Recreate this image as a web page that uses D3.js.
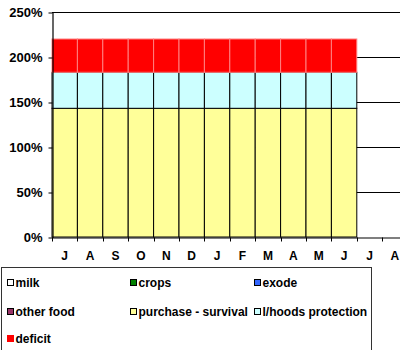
<!DOCTYPE html>
<html>
<head>
<meta charset="utf-8">
<script src="https://cdn.jsdelivr.net/npm/d3@7"></script>
<style>
  html, body { margin: 0; padding: 0; background: #fff; }
  svg { display: block; }
  text { font-family: "Liberation Sans", Arial, sans-serif; font-weight: bold; fill: #000; }
</style>
</head>
<body>
<svg id="chart" width="400" height="350"></svg>
<script>
// Months of the consumption year (last two have no data)
const months = ["J", "A", "S", "O", "N", "D", "J", "F", "M", "A", "M", "J", "J", "A"];

// Share of annual food needs covered by each source (%)
const milk      = [0, 0, 0, 0, 0, 0, 0, 0, 0, 0, 0, 0, 0, 0];
const crops     = [0, 0, 0, 0, 0, 0, 0, 0, 0, 0, 0, 0, 0, 0];
const exode     = [0, 0, 0, 0, 0, 0, 0, 0, 0, 0, 0, 0, 0, 0];
const otherFood = [0, 0, 0, 0, 0, 0, 0, 0, 0, 0, 0, 0, 0, 0];
const purchase  = [143, 143, 143, 143, 143, 143, 143, 143, 143, 143, 143, 143, 0, 0];
const lhoods    = [40, 40, 40, 40, 40, 40, 40, 40, 40, 40, 40, 40, 0, 0];
const deficit   = [37, 37, 37, 37, 37, 37, 37, 37, 37, 37, 37, 37, 0, 0];

const yTicks = [0, 50, 100, 150, 200, 250];

const seriesDefs = [
  { key: "milk",      label: "milk",                values: milk,      fill: "#ffffff", stroke: "#000" },
  { key: "crops",     label: "crops",               values: crops,     fill: "#008000", stroke: "#000" },
  { key: "exode",     label: "exode",               values: exode,     fill: "#3366ff", stroke: "#000" },
  { key: "otherFood", label: "other food",          values: otherFood, fill: "#993366", stroke: "#000" },
  { key: "purchase",  label: "purchase - survival", values: purchase,  fill: "#ffff99", stroke: "#000" },
  { key: "lhoods",    label: "l/hoods protection",  values: lhoods,    fill: "#ccffff", stroke: "#000" },
  { key: "deficit",   label: "deficit",             values: deficit,   fill: "#ff0000", stroke: "#ff8080" }
];

const rows = months.map((m, i) => {
  const r = { idx: i, month: m };
  seriesDefs.forEach(s => { r[s.key] = s.values[i]; });
  return r;
});

const svg = d3.select("#chart");
const plotLeft = 52, plotTop = 12, plotBottom = 237;
const bandW = 25.4;

const x = d3.scaleBand()
  .domain(d3.range(months.length))
  .range([plotLeft, plotLeft + bandW * months.length])
  .paddingInner(0).paddingOuter(0);

const y = d3.scaleLinear().domain([0, 250]).range([plotBottom, plotTop]);

// horizontal gridlines
svg.append("g").selectAll("line")
  .data(yTicks.filter(t => t > 0))
  .join("line")
  .attr("x1", plotLeft).attr("x2", plotLeft + bandW * months.length)
  .attr("y1", d => Math.round(y(d)) + 0.5).attr("y2", d => Math.round(y(d)) + 0.5)
  .attr("stroke", "#000").attr("stroke-width", 1);

// stacked bars
const stack = d3.stack().keys(seriesDefs.map(s => s.key));
const stacked = stack(rows);

svg.append("g").selectAll("g")
  .data(stacked)
  .join("g")
  .each(function (layer, li) {
    const def = seriesDefs[li];
    d3.select(this).selectAll("rect")
      .data(layer.filter(d => d[1] - d[0] > 0))
      .join("rect")
      .attr("x", d => x(d.data.idx))
      .attr("width", x.bandwidth())
      .attr("y", d => y(d[1]))
      .attr("height", d => y(d[0]) - y(d[1]))
      .attr("fill", def.fill)
      .attr("stroke", def.stroke)
      .attr("stroke-width", 1);
  });

// y axis
const yAxis = d3.axisLeft(y)
  .tickValues(yTicks)
  .tickFormat(d => d + "%")
  .tickSizeInner(4).tickSizeOuter(0).tickPadding(6);
const gy = svg.append("g")
  .attr("transform", `translate(${plotLeft + 0.5},0.5)`)
  .call(yAxis);
gy.select(".domain").attr("stroke", "#000").attr("stroke-width", 1.2);
gy.selectAll(".tick line").attr("stroke", "#000");
gy.selectAll("text").style("font-size", "13px").attr("fill", "#000");

// x axis
const xAxis = d3.axisBottom(x)
  .tickFormat(i => months[i])
  .tickSize(0).tickPadding(14);
const gx = svg.append("g")
  .attr("transform", `translate(0,${plotBottom + 0.5})`)
  .call(xAxis);
gx.select(".domain").attr("stroke", "#000").attr("stroke-width", 1.2);
gx.selectAll("text").style("font-size", "12px").attr("fill", "#000");

// band boundary ticks below the axis
gx.append("g").selectAll("line")
  .data(d3.range(months.length + 1))
  .join("line")
  .attr("x1", i => Math.round(plotLeft + i * bandW) + 0.5)
  .attr("x2", i => Math.round(plotLeft + i * bandW) + 0.5)
  .attr("y1", 0).attr("y2", 4)
  .attr("stroke", "#000");

// legend
const legend = svg.append("g");
legend.append("rect")
  .attr("x", 1.5).attr("y", 267.5)
  .attr("width", 370).attr("height", 100)
  .attr("fill", "#fff").attr("stroke", "#333").attr("stroke-width", 1);

const colX = [7, 130, 254];
const rowY = [283, 312, 339];
seriesDefs.forEach((s, i) => {
  const cx = colX[i % 3], cy = rowY[Math.floor(i / 3)];
  legend.append("rect")
    .attr("x", cx + 0.5).attr("y", cy - 3.5)
    .attr("width", 6).attr("height", 6)
    .attr("fill", s.fill)
    .attr("stroke", s.key === "deficit" ? s.fill : "#000");
  legend.append("text")
    .attr("x", cx + 8.5).attr("y", cy)
    .attr("dy", "0.35em")
    .style("font-size", "12px")
    .text(s.label);
});
</script>
</body>
</html>
